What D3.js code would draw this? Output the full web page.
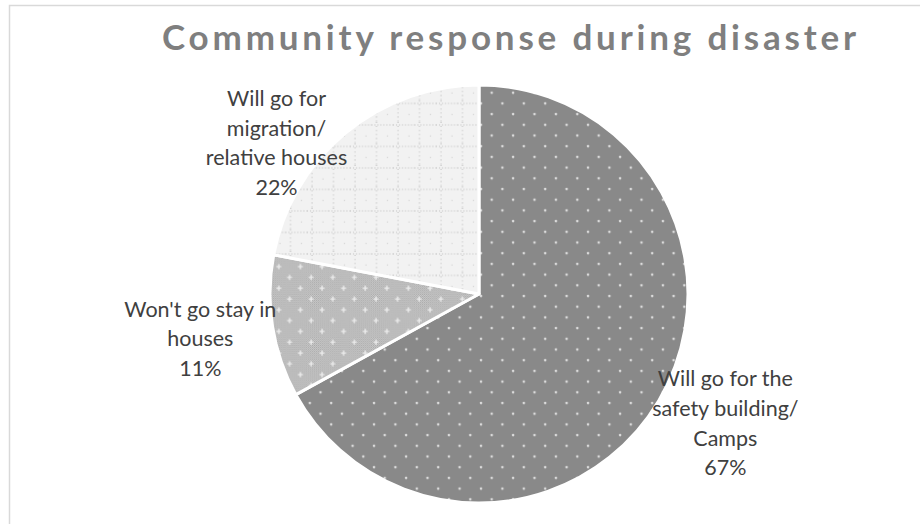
<!DOCTYPE html>
<html>
<head>
<meta charset="utf-8">
<script src="https://cdn.jsdelivr.net/npm/d3@7"></script>
<style>
  body { margin: 0; background: #fff; }
  svg { display: block; }
</style>
</head>
<body>
<div id="main"></div>
<script>
// chart data
const categories = ['Will go for the safety building/ Camps', "Won't go stay in houses", 'Will go for migration/ relative houses'];
const values = [67, 11, 22];
const labelLines = [
    ['Will go for the', 'safety building/', 'Camps'],
    ["Won't go stay in", 'houses'],
    ['Will go for', 'migration/', 'relative houses']
];
const titleText = 'Community response during disaster';

const width = 920, height = 524;
const cx = 479, cy = 294, radius = 209;

// label placement relative to slice (radius factor, angle nudge in degrees)
const labelLayout = [
    { k: 1.33, da: -3 },
    { k: 1.35, da: 0 },
    { k: 1.21, da: -13.6 }
];

const svg = d3.select('#main')
    .append('svg')
    .attr('width', width)
    .attr('height', height);

const defs = svg.append('defs');

// pattern for the big slice: grey with white dots
const p1 = defs.append('pattern')
    .attr('id', 'pat-dots')
    .attr('patternUnits', 'userSpaceOnUse')
    .attr('width', 21.4).attr('height', 21.4);
p1.append('rect').attr('width', 21.4).attr('height', 21.4).attr('fill', '#898989');
p1.append('circle').attr('cx', 2).attr('cy', 2).attr('r', 1.3).attr('fill', '#dcdcdc');
p1.append('circle').attr('cx', 12.7).attr('cy', 12.7).attr('r', 1.3).attr('fill', '#dcdcdc');

// fine checker base
const pc = defs.append('pattern')
    .attr('id', 'pat-checker')
    .attr('patternUnits', 'userSpaceOnUse')
    .attr('width', 2).attr('height', 2);
pc.append('rect').attr('width', 2).attr('height', 2).attr('fill', '#d2d2d2');
pc.append('rect').attr('width', 1).attr('height', 1).attr('fill', '#a6a6a6');
pc.append('rect').attr('x', 1).attr('y', 1).attr('width', 1).attr('height', 1).attr('fill', '#a6a6a6');

// pattern for small slice: checker with light plus signs
const p2 = defs.append('pattern')
    .attr('id', 'pat-plus')
    .attr('patternUnits', 'userSpaceOnUse')
    .attr('width', 21.6).attr('height', 21.6);
p2.append('rect').attr('width', 21.6).attr('height', 21.6).attr('fill', 'url(#pat-checker)');
[[5, 5], [15.8, 15.8]].forEach(([x, y]) => {
    p2.append('path')
        .attr('d', `M${x - 2.5},${y}H${x + 2.5}M${x},${y - 2.5}V${y + 2.5}`)
        .attr('stroke', '#ececec')
        .attr('stroke-width', 1.4);
});

// pattern for the light slice: dotted grid
const g = 21.5;
const p3 = defs.append('pattern')
    .attr('id', 'pat-grid')
    .attr('patternUnits', 'userSpaceOnUse')
    .attr('width', g).attr('height', g);
p3.append('rect').attr('width', g).attr('height', g).attr('fill', '#f2f2f2');
p3.append('line').attr('x1', 0).attr('y1', 3).attr('x2', g).attr('y2', 3)
    .attr('stroke', '#bdbdbd').attr('stroke-width', 1).attr('stroke-dasharray', '1,2');
p3.append('line').attr('x1', 5).attr('y1', 0).attr('x2', 5).attr('y2', g)
    .attr('stroke', '#bdbdbd').attr('stroke-width', 1).attr('stroke-dasharray', '1,3');
p3.append('rect').attr('x', 15.5).attr('y', 13.5).attr('width', 1).attr('height', 1).attr('fill', '#c8c8c8');

const fills = ['url(#pat-dots)', 'url(#pat-plus)', 'url(#pat-grid)'];

// chart frame
svg.append('rect')
    .attr('x', 9.5).attr('y', 5.5)
    .attr('width', 1000).attr('height', 1000)
    .attr('fill', 'none')
    .attr('stroke', '#d9d9d9')
    .attr('stroke-width', 1.5);

// title
svg.append('text')
    .attr('x', 509)
    .attr('y', 50)
    .attr('text-anchor', 'middle')
    .attr('font-family', 'Lato, sans-serif')
    .attr('font-weight', 'bold')
    .attr('font-size', 35)
    .attr('fill', '#7f7f7f')
    .attr('textLength', 694)
    .attr('lengthAdjust', 'spacing')
    .text(titleText);

const pie = d3.pie().sort(null).value(d => d);
const arcs = pie(values);
const arc = d3.arc().innerRadius(0).outerRadius(radius);

const chart = svg.append('g')
    .attr('transform', `translate(${cx}, ${cy})`);

chart.selectAll('path')
    .data(arcs)
    .enter()
    .append('path')
    .attr('d', arc)
    .attr('fill', (d, i) => fills[i])
    .attr('stroke', '#fff')
    .attr('stroke-width', 3)
    .attr('stroke-linejoin', 'round');

// data labels
const lineHeight = 29.6;
const labels = chart.selectAll('text.label')
    .data(arcs)
    .enter()
    .append('text')
    .attr('class', 'label')
    .attr('text-anchor', 'middle')
    .attr('font-family', 'Lato, sans-serif')
    .attr('font-size', 21.5)
    .attr('fill', '#404040')
    .each(function(d, i) {
        const lay = labelLayout[i];
        const mid = (d.startAngle + d.endAngle) / 2 + lay.da * Math.PI / 180;
        const r = radius * lay.k;
        const x = r * Math.sin(mid);
        const y = -r * Math.cos(mid);
        const lines = labelLines[i].concat([d3.format('.0f')(d.data) + '%']);
        const top = y - (lines.length - 1) / 2 * lineHeight;
        const t = d3.select(this);
        lines.forEach((ln, j) => {
            t.append('tspan')
                .attr('x', x)
                .attr('y', top + j * lineHeight)
                .attr('dominant-baseline', 'central')
                .text(ln);
        });
    });
</script>
</body>
</html>
